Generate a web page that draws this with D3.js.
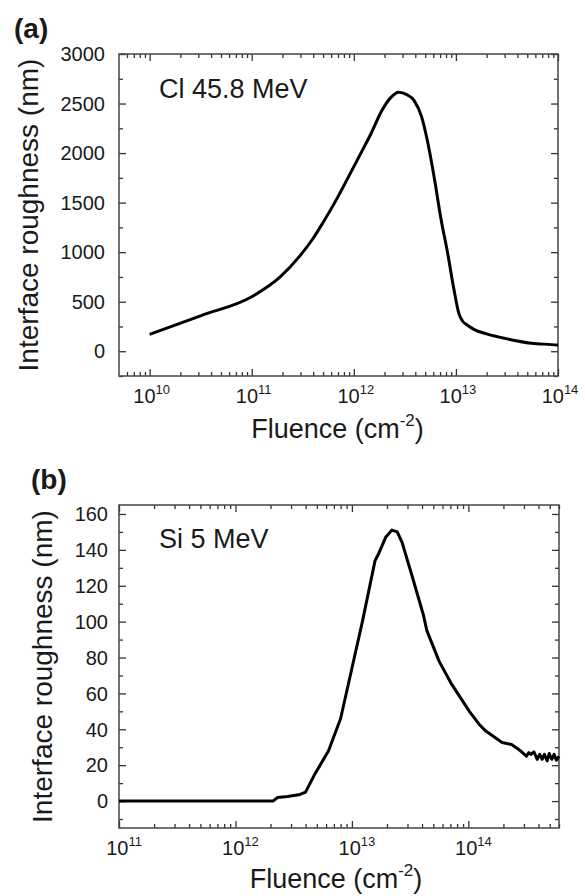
<!DOCTYPE html>
<html>
<head>
<meta charset="utf-8">
<script src="https://cdn.jsdelivr.net/npm/d3@7"></script>
<style>
  body { margin: 0; background: #fff; }
  svg text { font-family: "Liberation Sans", Arial, sans-serif; fill: #1a1a1a; }
</style>
</head>
<body>
<svg id="fig" width="585" height="896"></svg>
<script>
// panel (a): Cl 45.8 MeV
const aFluence = [1e10, 3.2e10, 1e11, 1.9e11, 2.95e11, 4e11, 5e11, 6.5e11, 8.5e11, 1.12e12,
  1.48e12, 1.86e12, 2.3e12, 2.75e12, 3.3e12, 3.9e12, 4.6e12, 5.25e12, 6.2e12, 7.1e12,
  8.3e12, 9.5e12, 1.07e13, 1.17e13, 1.29e13, 1.5e13, 2e13, 2.6e13, 5.5e13, 9.8e13, 1e14];
const aRough = [170, 360, 550, 750, 960, 1140, 1300, 1500, 1724, 1960,
  2200, 2420, 2560, 2615, 2590, 2530, 2370, 2127, 1724, 1350,
  990, 640, 380, 300, 265, 220, 175, 145, 80, 62, 60];
const aYTicks = [0, 500, 1000, 1500, 2000, 2500, 3000];

// panel (b): Si 5 MeV
const bFluence = [1e11, 2.1e12, 2.3e12, 2.8e12, 3.5e12, 4e12, 4.8e12, 6.3e12, 8e12, 1e13,
  1.23e13, 1.58e13, 1.7e13, 1.95e13, 2.2e13, 2.45e13, 2.7e13, 3.3e13, 4.1e13, 4.4e13,
  5.6e13, 7.2e13, 1.02e14, 1.23e14, 1.41e14, 1.95e14, 2.35e14, 2.8e14, 3.15e14, 3.3e14,
  3.45e14, 3.65e14, 3.9e14, 4.1e14, 4.3e14, 4.5e14, 4.75e14, 4.95e14, 5.2e14, 5.45e14,
  5.7e14, 6e14];
const bRough = [0, 0, 2, 2.5, 3.5, 5, 15, 28, 46, 74,
  100, 134, 138, 147, 151, 150, 144, 125, 104, 95,
  78, 65, 50, 43, 39, 32.6, 31.5, 28, 25, 27,
  26, 27.5, 23.3, 26, 23.3, 26, 22.4, 26.5, 23.3, 26,
  22.8, 25];
const bYTicks = [0, 20, 40, 60, 80, 100, 120, 140, 160];

const svg = d3.select('#fig');

function logMinors(lo, hi) {
  const out = [];
  for (let e = Math.floor(Math.log10(lo)); e <= Math.ceil(Math.log10(hi)); e++) {
    for (let m = 1; m < 10; m++) {
      const v = m * Math.pow(10, e);
      if (v >= lo * 0.999 && v <= hi * 1.001) out.push(v);
    }
  }
  return out;
}

function drawPanel(p) {
  const x = d3.scaleLog().domain(p.xDomain).range([p.left, p.right]);
  const y = d3.scaleLinear().domain(p.yDomain).range([p.bottom, p.top]);
  const g = svg.append('g');

  const all = logMinors(p.xDomain[0], p.xDomain[1]);
  const decades = all.filter(v => Math.abs(Math.log10(v) - Math.round(Math.log10(v))) < 1e-9);
  const xMinor = all.filter(v => !decades.includes(v));
  const yMinor = d3.range(p.yDomain[0], p.yDomain[1] + 1e-9, p.yStep / 2)
    .map(v => Math.round(v / (p.yStep / 2)) * (p.yStep / 2))
    .filter(v => !p.yTicks.includes(v) && v >= p.yDomain[0] && v <= p.yDomain[1]);

  const style = sel => {
    sel.select('.domain').remove();
    sel.selectAll('line').attr('stroke', '#333').attr('stroke-width', 1.3);
    sel.selectAll('text').remove();
  };

  // bottom and top
  g.append('g').attr('transform', `translate(0,${p.bottom})`)
    .call(d3.axisBottom(x).tickValues(decades).tickSize(-7)).call(style);
  g.append('g').attr('transform', `translate(0,${p.bottom})`)
    .call(d3.axisBottom(x).tickValues(xMinor).tickSize(-4)).call(style);
  g.append('g').attr('transform', `translate(0,${p.top})`)
    .call(d3.axisTop(x).tickValues(decades).tickSize(-7)).call(style);
  g.append('g').attr('transform', `translate(0,${p.top})`)
    .call(d3.axisTop(x).tickValues(xMinor).tickSize(-4)).call(style);
  // left and right
  g.append('g').attr('transform', `translate(${p.left},0)`)
    .call(d3.axisLeft(y).tickValues(p.yTicks).tickSize(-7)).call(style);
  g.append('g').attr('transform', `translate(${p.left},0)`)
    .call(d3.axisLeft(y).tickValues(yMinor).tickSize(-4)).call(style);
  g.append('g').attr('transform', `translate(${p.right},0)`)
    .call(d3.axisRight(y).tickValues(p.yTicks).tickSize(-7)).call(style);
  g.append('g').attr('transform', `translate(${p.right},0)`)
    .call(d3.axisRight(y).tickValues(yMinor).tickSize(-4)).call(style);

  // frame
  g.append('rect')
    .attr('x', p.left).attr('y', p.top)
    .attr('width', p.right - p.left).attr('height', p.bottom - p.top)
    .attr('fill', 'none').attr('stroke', '#444').attr('stroke-width', 1.5);

  // y tick labels
  g.selectAll('.ylab').data(p.yTicks).join('text')
    .attr('x', p.left - p.yLabGap).attr('y', d => y(d))
    .attr('dy', '0.36em').attr('text-anchor', 'end')
    .attr('font-size', 20).text(d => d);

  // x tick labels 10^n
  const xl = g.selectAll('.xlab').data(decades).join('text')
    .attr('x', d => x(d) + p.xLabShift).attr('y', p.bottom + p.xLabDrop)
    .attr('text-anchor', 'middle').attr('font-size', 20);
  xl.append('tspan').text('10');
  xl.append('tspan').attr('font-size', 13).attr('dy', -9)
    .text(d => Math.round(Math.log10(d)));

  // axis titles
  const xt = g.append('text')
    .attr('x', (p.left + p.right) / 2 + p.xTitleShift).attr('y', p.bottom + p.xTitleDrop)
    .attr('text-anchor', 'middle').attr('font-size', 27);
  xt.append('tspan').text('Fluence (cm');
  xt.append('tspan').attr('font-size', 17).attr('dy', -12).text('-2');
  xt.append('tspan').attr('dy', 12).text(')');

  g.append('text')
    .attr('transform', `translate(${p.yTitleX},${(p.top + p.bottom) / 2}) rotate(-90)`)
    .attr('text-anchor', 'middle').attr('font-size', 28)
    .text('Interface roughness (nm)');

  // panel letter and annotation
  g.append('text').attr('x', p.letterX).attr('y', p.letterY)
    .attr('font-size', 28).attr('font-weight', 'bold').text(p.letter);
  g.append('text').attr('x', p.left + 40).attr('y', p.annoY)
    .attr('font-size', 27).text(p.label);

  // curve
  const line = d3.line()
    .x(d => x(d[0])).y(d => y(d[1]))
    .curve(p.curve);
  g.append('path')
    .datum(d3.zip(p.xs, p.ys))
    .attr('d', line)
    .attr('fill', 'none').attr('stroke', '#000')
    .attr('stroke-width', 3).attr('stroke-linejoin', 'round');
}

drawPanel({
  left: 119, right: 558, top: 54, bottom: 376,
  xDomain: [Math.pow(10, 9.7), 1e14], yDomain: [-250, 3000],
  yTicks: aYTicks, yStep: 500, yLabGap: 14,
  xLabShift: 2, xLabDrop: 27, xTitleDrop: 62, xTitleShift: -1, yTitleX: 38,
  letter: '(a)', letterX: 14, letterY: 38,
  label: 'Cl 45.8 MeV', annoY: 98,
  xs: aFluence, ys: aRough, curve: d3.curveMonotoneX
});

drawPanel({
  left: 119, right: 559, top: 505, bottom: 828,
  xDomain: [1e11, 6e14], yDomain: [-15, 165],
  yTicks: bYTicks, yStep: 20, yLabGap: 11,
  xLabShift: 5, xLabDrop: 27, xTitleDrop: 60, xTitleShift: -3, yTitleX: 52,
  letter: '(b)', letterX: 31, letterY: 489,
  label: 'Si 5 MeV', annoY: 548,
  xs: bFluence, ys: bRough, curve: d3.curveLinear
});
</script>
</body>
</html>
